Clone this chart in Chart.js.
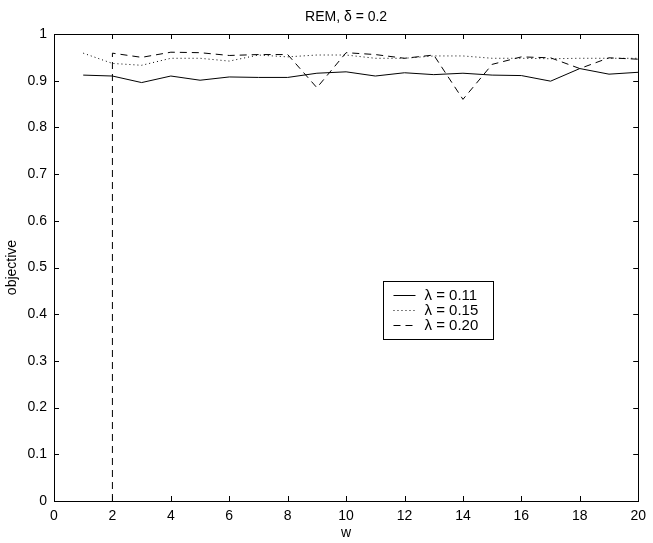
<!DOCTYPE html>
<html>
<head>
<meta charset="utf-8">
<script src="https://cdn.jsdelivr.net/npm/chart.js@4/dist/chart.umd.min.js"></script>
<style>
  html, body { margin: 0; padding: 0; background: #fff; }
  #wrap { width: 653px; height: 543px; }
</style>
</head>
<body>
<div id="wrap"><canvas id="myChart" width="653" height="543"></canvas></div>
<script>
// window size w = 1..20
var wValues = [1, 2, 3, 4, 5, 6, 7, 8, 9, 10, 11, 12, 13, 14, 15, 16, 17, 18, 19, 20];

// lambda = 0.11 (solid)
var obj011 = [0.912, 0.910, 0.896, 0.910, 0.901, 0.908, 0.907, 0.907, 0.916, 0.919,
              0.910, 0.917, 0.913, 0.916, 0.912, 0.911, 0.899, 0.926, 0.914, 0.918];

// lambda = 0.15 (dotted)
var obj015 = [0.959, 0.937, 0.933, 0.948, 0.948, 0.942, 0.955, 0.951, 0.955, 0.955,
              0.948, 0.948, 0.953, 0.953, 0.948, 0.948, 0.947, 0.948, 0.948, 0.948];

// lambda = 0.20 (dashed) - starts at zero for w = 2
var w020 = [2, 2, 3, 4, 5, 6, 7, 8, 9, 10, 11, 12, 13, 14, 15, 16, 17, 18, 19, 20];
var obj020 = [0, 0.959, 0.950, 0.961, 0.960, 0.954, 0.956, 0.956, 0.885, 0.960,
              0.956, 0.948, 0.955, 0.860, 0.935, 0.951, 0.949, 0.926, 0.949, 0.946];

var seriesLabels = ["λ = 0.11", "λ = 0.15", "λ = 0.20"];
var xTicks = [0, 2, 4, 6, 8, 10, 12, 14, 16, 18, 20];
var yTicks = [0, 0.1, 0.2, 0.3, 0.4, 0.5, 0.6, 0.7, 0.8, 0.9, 1];

var chartTitle = "REM, δ = 0.2";
var xLabel = "w";
var yLabel = "objective";

var FONT = '"Liberation Sans", Arial, Helvetica, sans-serif';
var FSIZE = 14;
var dashes = [[], [1, 3], [7, 5]];

function toPoints(xs, ys) {
  return xs.map(function (x, i) { return { x: x, y: ys[i] }; });
}

// box, inside ticks, titles and legend drawn on top of the plot
var frame = {
  id: "frame",
  afterDraw: function (chart) {
    var ctx = chart.ctx;
    var a = chart.chartArea;
    var sx = chart.scales.x, sy = chart.scales.y;
    ctx.save();
    ctx.strokeStyle = "#000";
    ctx.lineWidth = 1;
    ctx.strokeRect(Math.round(a.left) + 0.5, Math.round(a.top) + 0.5,
                   Math.round(a.right - a.left), Math.round(a.bottom - a.top));
    ctx.beginPath();
    xTicks.forEach(function (v) {
      var px = Math.round(sx.getPixelForValue(v)) + 0.5;
      ctx.moveTo(px, a.bottom); ctx.lineTo(px, a.bottom - 5);
      ctx.moveTo(px, a.top); ctx.lineTo(px, a.top + 5);
    });
    yTicks.forEach(function (v) {
      var py = Math.round(sy.getPixelForValue(v)) + 0.5;
      ctx.moveTo(a.left, py); ctx.lineTo(a.left + 5, py);
      ctx.moveTo(a.right, py); ctx.lineTo(a.right - 5, py);
    });
    ctx.stroke();

    ctx.fillStyle = "#000";
    ctx.font = FSIZE + "px " + FONT;
    ctx.textAlign = "center";
    ctx.textBaseline = "middle";
    ctx.fillText(chartTitle, (a.left + a.right) / 2, 17);
    ctx.fillText(xLabel, (a.left + a.right) / 2, 533);
    ctx.save();
    ctx.translate(12, (a.top + a.bottom) / 2);
    ctx.rotate(-Math.PI / 2);
    ctx.fillText(yLabel, 0, 0);
    ctx.restore();

    // legend box
    var lx = sx.getPixelForValue(11.28), rx = sx.getPixelForValue(15.05);
    var ty = sy.getPixelForValue(0.471);
    var rowH = 15;
    var bh = 58;
    ctx.fillStyle = "#fff";
    ctx.fillRect(lx, ty, rx - lx, bh);
    ctx.strokeRect(Math.round(lx) + 0.5, Math.round(ty) + 0.5, Math.round(rx - lx), bh);
    ctx.textAlign = "left";
    ctx.font = "15px " + FONT;
    for (var i = 0; i < 3; i++) {
      var yy = Math.round(ty + 14 + rowH * i) + 0.5;
      ctx.beginPath();
      ctx.setLineDash(dashes[i]);
      ctx.moveTo(lx + 10, yy);
      ctx.lineTo(lx + 32, yy);
      ctx.stroke();
      ctx.setLineDash([]);
      ctx.fillStyle = "#000";
      ctx.fillText(seriesLabels[i], lx + 41, yy);
    }
    ctx.restore();
  }
};

const ctx = document.getElementById("myChart").getContext("2d");
new Chart(ctx, {
  type: "line",
  data: {
    datasets: [
      { label: seriesLabels[0], data: toPoints(wValues, obj011), borderDash: dashes[0] },
      { label: seriesLabels[1], data: toPoints(wValues, obj015), borderDash: dashes[1] },
      { label: seriesLabels[2], data: toPoints(w020, obj020), borderDash: dashes[2] }
    ]
  },
  options: {
    responsive: false,
    animation: false,
    layout: { padding: { left: 0, top: 34, right: 9, bottom: 0 } },
    elements: {
      line: { borderColor: "#000", borderWidth: 1, tension: 0, fill: false },
      point: { radius: 0 }
    },
    plugins: {
      legend: { display: false },
      title: { display: false },
      tooltip: { enabled: false }
    },
    scales: {
      x: {
        type: "linear",
        min: 0,
        max: 20,
        afterFit: function (s) { s.height = 42; },
        afterBuildTicks: function (s) { s.ticks = xTicks.map(function (v) { return { value: v }; }); },
        grid: { display: false, drawTicks: false },
        border: { display: false },
        ticks: { padding: 7, color: "#000", font: { family: FONT, size: FSIZE }, maxRotation: 0 }
      },
      y: {
        min: 0,
        max: 1,
        afterFit: function (s) { s.width = 54; },
        afterBuildTicks: function (s) { s.ticks = yTicks.map(function (v) { return { value: v }; }); },
        grid: { display: false, drawTicks: false },
        border: { display: false },
        ticks: {
          padding: 7,
          color: "#000",
          font: { family: FONT, size: FSIZE },
          callback: function (v) { return String(Math.round(v * 10) / 10); }
        }
      }
    }
  },
  plugins: [frame]
});
</script>
</body>
</html>
